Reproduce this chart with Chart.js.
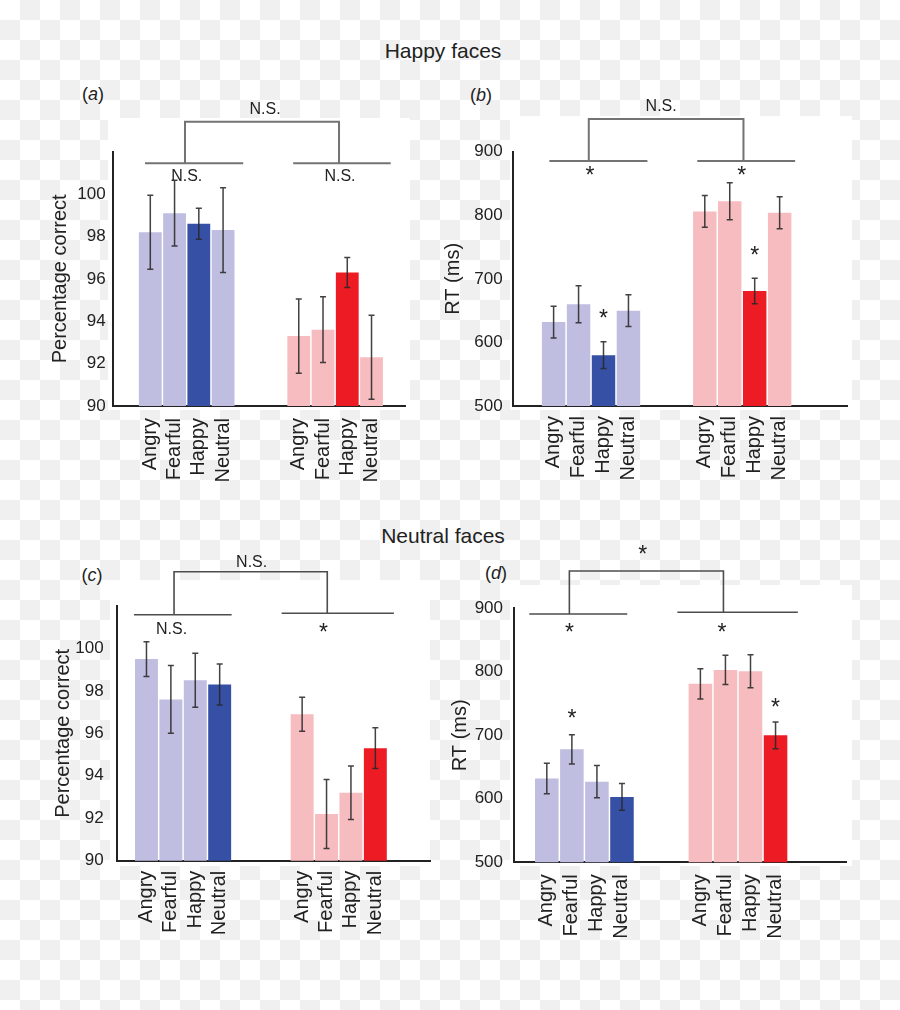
<!DOCTYPE html>
<html><head><meta charset="utf-8">
<script src="https://cdn.jsdelivr.net/npm/chart.js@4.4.1/dist/chart.umd.min.js"></script>
<style>
html,body{margin:0;padding:0;}
body{width:900px;height:1010px;position:relative;overflow:hidden;background-color:#fff;
 background-image:conic-gradient(#f0f0f0 0 25%, #fff 0 50%, #f0f0f0 0 75%, #fff 0);
 background-size:40px 40px;font-family:'Liberation Sans',Arial,sans-serif;color:#222;}
.panel{position:absolute;background:#fff;}
canvas{position:absolute;}
.txt{position:absolute;transform:translate(-50%,-50%);white-space:nowrap;line-height:1;}
.sec{font-size:21px;}
.lab{font-size:18px;}
</style></head><body>
<div class="panel" style="left:108px;top:118px;width:302px;height:292px"></div>
<div class="panel" style="left:510px;top:116px;width:342px;height:294px"></div>
<div class="panel" style="left:110px;top:580px;width:320px;height:286px"></div>
<div class="panel" style="left:510px;top:585px;width:342px;height:281px"></div>
<div class="txt sec" style="left:443px;top:50px">Happy faces</div>
<div class="txt sec" style="left:443px;top:535px">Neutral faces</div>
<div class="txt lab" style="left:93px;top:94px">(<i>a</i>)</div>
<div class="txt lab" style="left:481px;top:95px">(<i>b</i>)</div>
<div class="txt lab" style="left:92px;top:575px">(<i>c</i>)</div>
<div class="txt lab" style="left:496px;top:573px">(<i>d</i>)</div>
<canvas id="ca" width="450" height="440" style="left:0;top:80px"></canvas>
<canvas id="cb" width="470" height="440" style="left:430px;top:80px"></canvas>
<canvas id="cc" width="450" height="490" style="left:0;top:520px"></canvas>
<canvas id="cd" width="470" height="490" style="left:430px;top:520px"></canvas>
<script>
// ---- data ----
const categories = ['Angry', 'Fearful', 'Happy', 'Neutral'];
const accTicks = [90, 92, 94, 96, 98, 100];
const rtTicks = [500, 600, 700, 800, 900];

// (a) Happy faces, percentage correct
const accHappyBlue = [98.2, 99.1, 98.6, 98.3];
const accHappyBlueErr = [1.75, 1.55, 0.73, 2.0];
const accHappyRed = [93.3, 93.6, 96.3, 92.3];
const accHappyRedErr = [1.75, 1.55, 0.71, 1.98];
// (b) Happy faces, RT
const rtHappyBlue = [632, 660, 580, 650];
const rtHappyBlueErr = [25, 29, 21, 25];
const rtHappyRed = [806, 822, 681, 804];
const rtHappyRedErr = [25, 29, 20, 25];
// (c) Neutral faces, percentage correct
const accNeutralBlue = [99.5, 97.6, 98.5, 98.3];
const accNeutralBlueErr = [0.82, 1.6, 1.27, 0.97];
const accNeutralRed = [96.9, 92.2, 93.2, 95.3];
const accNeutralRedErr = [0.8, 1.62, 1.26, 0.96];
// (d) Neutral faces, RT
const rtNeutralBlue = [632, 678, 627, 603];
const rtNeutralBlueErr = [24, 23, 25.5, 21];
const rtNeutralRed = [781, 803, 801, 700];
const rtNeutralRedErr = [24, 23, 26, 21];

// ---- styles / layout ----
const COL = {blueLight:'#bfbde0', blue:'#3650a5', redLight:'#f7bcbf', red:'#ed1c24'};
Chart.defaults.font.family = "'Liberation Sans', Arial, sans-serif";
Chart.defaults.color = '#222';

const panels = [
 {canvas:'ca', yw:112.7, padR:45, padT:71.7, xh:114, title:'Percentage correct', titlePad:48, tickPad:7, xPad:12,
  yMin:90, yMax:102, ticks:accTicks, blue:accHappyBlue, blueErr:accHappyBlueErr, red:accHappyRed, redErr:accHappyRedErr,
  hi:2, g:6.12, xMin:-1.55, xMax:10.5,
  br:{color:'#737373', lw:2, lines:[{x:[-0.22,3.83], dy:11.6},{x:[5.89,9.91], dy:11.6}], drops:[1.43,7.78], topY:-30,
      labels:[{x:4.73, dy:-43.7, t:'N.S.'},{x:1.5, dy:23.3, t:'N.S.'},{x:7.82, dy:23.3, t:'N.S.'}]},
  stars:[]},
 {canvas:'cb', yw:82.7, padR:53, padT:71.7, xh:114, title:'RT (ms)', titlePad:11.3, tickPad:10, xPad:10,
  yMin:500, yMax:900, ticks:rtTicks, blue:rtHappyBlue, blueErr:rtHappyBlueErr, red:rtHappyRed, redErr:rtHappyRedErr,
  hi:2, g:6.06, xMin:-1.64, xMax:11.76,
  br:{color:'#737373', lw:2, lines:[{x:[-0.17,3.76], dy:9.3},{x:[5.76,9.68], dy:9.3}], drops:[1.41,7.61], topY:-32.7,
      labels:[{x:4.31, dy:-46.7, t:'N.S.'},{x:1.46, dy:18.3, t:'*'},{x:7.54, dy:18.3, t:'*'}]},
  stars:[{bar:2, dy:28.7},{bar:6, dy:28.7}]},
 {canvas:'cc', yw:116.7, padR:20, padT:86, xh:149.3, title:'Percentage correct', titlePad:51.3, tickPad:13, xPad:10,
  yMin:90, yMax:102, ticks:accTicks, blue:accNeutralBlue, blueErr:accNeutralBlueErr, red:accNeutralRed, redErr:accNeutralRedErr,
  hi:3, g:6.38, xMin:-1.22, xMax:11.62,
  br:{color:'#4d4d4d', lw:1.6, lines:[{x:[-0.51,3.49], dy:8.7},{x:[5.54,10.14], dy:7.3}], drops:[1.13,7.41], topY:-34.3,
      labels:[{x:4.31, dy:-44.3, t:'N.S.'},{x:1.03, dy:22.3, t:'N.S.'},{x:7.25, dy:20.7, t:'*'}]},
  stars:[]},
 {canvas:'cd', yw:84, padR:53.3, padT:88.3, xh:147.7, title:'RT (ms)', titlePad:18, tickPad:11, xPad:12,
  yMin:500, yMax:900, ticks:rtTicks, blue:rtNeutralBlue, blueErr:rtNeutralBlueErr, red:rtNeutralRed, redErr:rtNeutralRedErr,
  hi:3, g:6.13, xMin:-1.31, xMax:11.97,
  br:{color:'#4d4d4d', lw:1.6, lines:[{x:[-0.70,3.21], dy:5.7},{x:[5.21,10.02], dy:4}], drops:[0.90,7.05], topY:-37.3,
      labels:[{x:3.83, dy:-59, t:'*'},{x:0.90, dy:19, t:'*'},{x:6.99, dy:18.4, t:'*'}]},
  stars:[{bar:1, dy:22},{bar:7, dy:19.6}]}
];

function drawText(ctx, t, x, yc){
  const star = t === '*';
  const size = star ? 23 : 16;
  ctx.font = size + "px 'Liberation Sans', Arial, sans-serif";
  ctx.fillStyle = '#222';
  ctx.textAlign = 'center';
  ctx.textBaseline = 'alphabetic';
  ctx.fillText(t, x, yc + (star ? 0.57 : 0.358) * size);
}

function makeAnnot(p){
  return {
    id:'annot',
    afterDatasetsDraw(chart){
      const ctx = chart.ctx, xs = chart.scales.x, ys = chart.scales.y, ca = chart.chartArea;
      const meta = chart.getDatasetMeta(0);
      const vals = [...p.blue, ...p.red], errs = [...p.blueErr, ...p.redErr];
      ctx.save();
      // error bars
      ctx.strokeStyle = 'rgba(40,40,40,0.88)';
      ctx.lineWidth = 1.5;
      meta.data.forEach((bar, i) => {
        const x = bar.x;
        const yT = ys.getPixelForValue(vals[i] + errs[i]);
        const yB = ys.getPixelForValue(vals[i] - errs[i]);
        ctx.beginPath();
        ctx.moveTo(x, yT); ctx.lineTo(x, yB);
        ctx.moveTo(x - 3, yT); ctx.lineTo(x + 3, yT);
        ctx.moveTo(x - 3, yB); ctx.lineTo(x + 3, yB);
        ctx.stroke();
      });
      // significance stars above bars
      p.stars.forEach(s => {
        const bar = meta.data[s.bar];
        const yT = ys.getPixelForValue(vals[s.bar] + errs[s.bar]);
        drawText(ctx, '*', bar.x, yT - s.dy);
      });
      // brackets
      const b = p.br;
      ctx.strokeStyle = b.color;
      ctx.lineWidth = b.lw;
      ctx.beginPath();
      b.lines.forEach(l => {
        const y = ca.top + l.dy;
        ctx.moveTo(xs.getPixelForValue(l.x[0]), y);
        ctx.lineTo(xs.getPixelForValue(l.x[1]), y);
      });
      const yTop = ca.top + b.topY;
      const d0 = xs.getPixelForValue(b.drops[0]), d1 = xs.getPixelForValue(b.drops[1]);
      ctx.moveTo(d0, ca.top + b.lines[0].dy);
      ctx.lineTo(d0, yTop);
      ctx.lineTo(d1, yTop);
      ctx.lineTo(d1, ca.top + b.lines[1].dy);
      ctx.stroke();
      b.labels.forEach(l => drawText(ctx, l.t, xs.getPixelForValue(l.x), ca.top + l.dy));
      ctx.restore();
    }
  };
}

panels.forEach(p => {
  const points = [], colors = [];
  p.blue.forEach((v, i) => { points.push({x: i, y: v}); colors.push(i === p.hi ? COL.blue : COL.blueLight); });
  p.red.forEach((v, i) => { points.push({x: p.g + i, y: v}); colors.push(i === p.hi ? COL.red : COL.redLight); });
  const tickPos = points.map(pt => pt.x);
  const tickLabels = [...categories, ...categories];
  new Chart(document.getElementById(p.canvas), {
    type:'bar',
    data:{datasets:[{data:points, backgroundColor:colors, borderWidth:0, barPercentage:0.94, categoryPercentage:1}]},
    options:{
      responsive:false, animation:false, devicePixelRatio:1,
      layout:{padding:{left:0, right:p.padR, top:p.padT, bottom:0}},
      plugins:{legend:{display:false}, tooltip:{enabled:false}},
      scales:{
        x:{type:'linear', min:p.xMin, max:p.xMax, offset:false,
           grid:{display:false, drawTicks:false},
           border:{display:true, color:'#222', width:2},
           afterBuildTicks:s => { s.ticks = tickPos.map(v => ({value:v})); },
           afterFit:s => { s.height = p.xh; },
           ticks:{autoSkip:false, minRotation:90, maxRotation:90, padding:p.xPad,
                  font:{size:20}, color:'#222',
                  callback:(v, i) => tickLabels[i]}},
        y:{type:'linear', min:p.yMin, max:p.yMax,
           grid:{display:false, drawTicks:false},
           border:{display:true, color:'#222', width:2},
           afterBuildTicks:s => { s.ticks = p.ticks.map(v => ({value:v})); },
           afterFit:s => { s.width = p.yw; },
           ticks:{padding:p.tickPad, font:{size:17}, color:'#222'},
           title:{display:true, text:p.title, font:{size:20}, color:'#222', padding:{top:p.titlePad, bottom:0}}}
      }
    },
    plugins:[makeAnnot(p)]
  });
});
</script>
</body></html>
